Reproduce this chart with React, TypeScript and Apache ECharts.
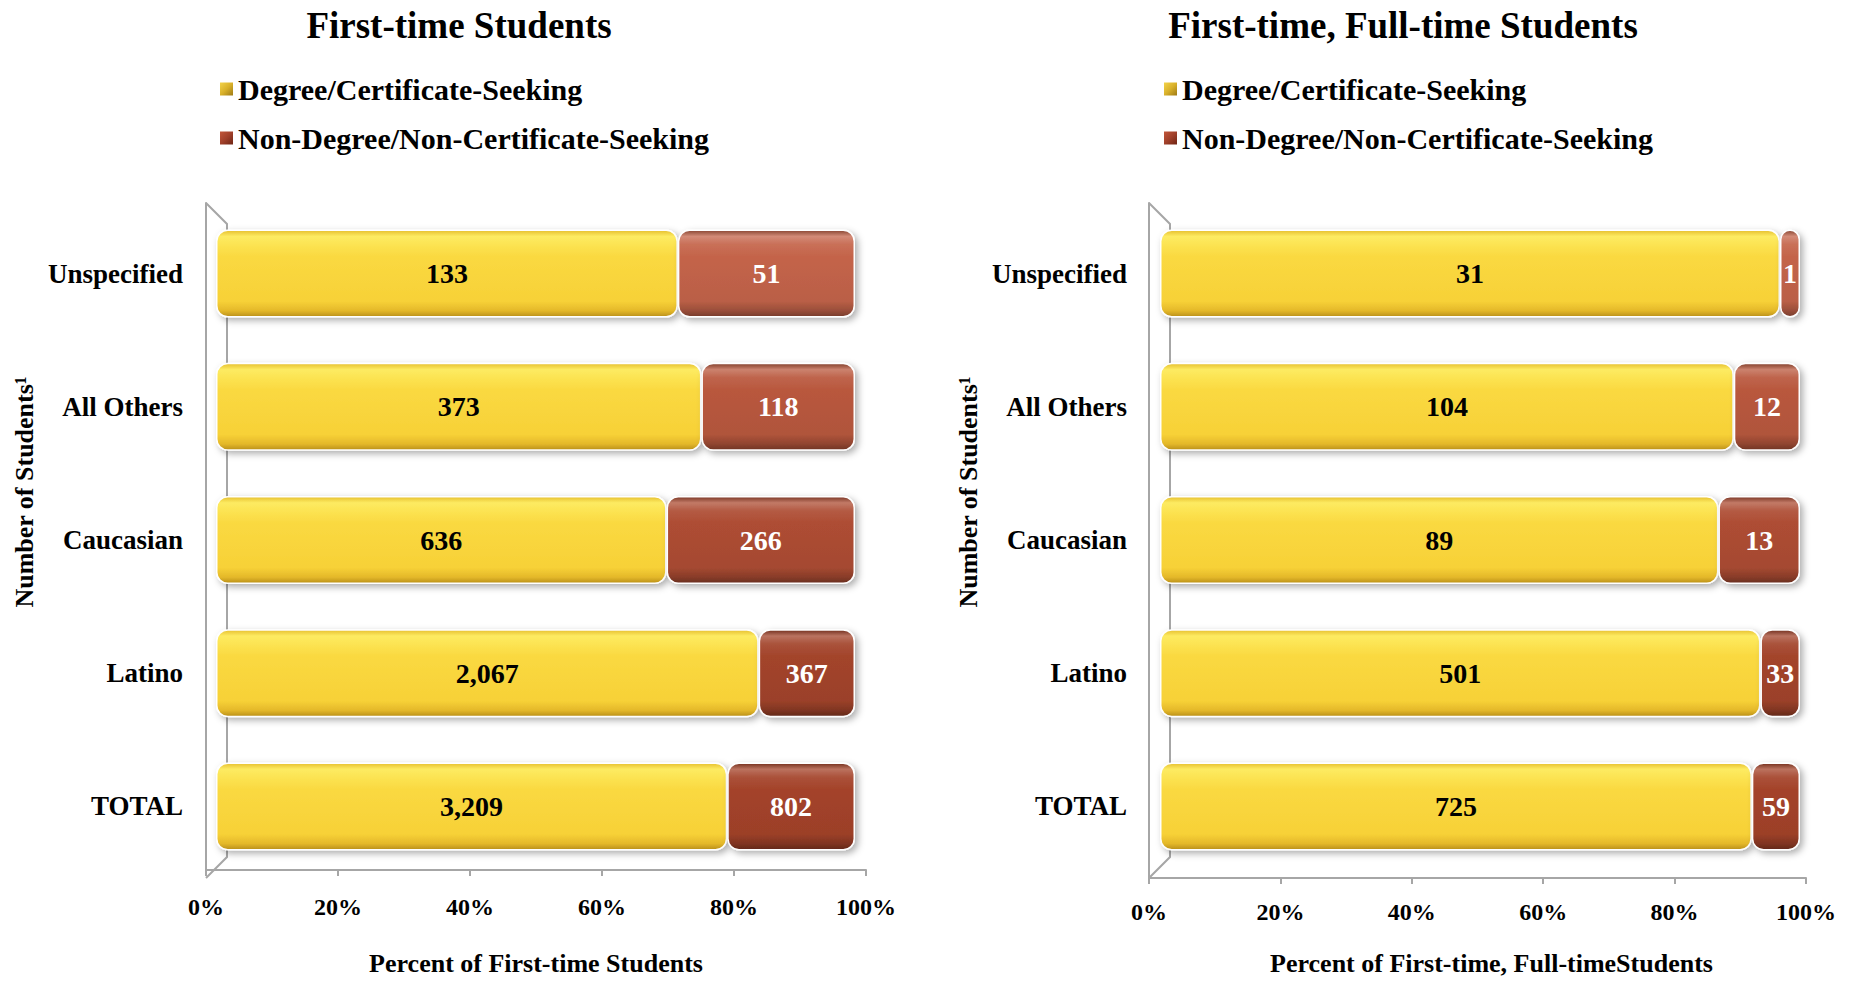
import React, { useEffect, useRef } from 'react';
import * as echarts from 'echarts';

// ---------- data ----------
const categories = ['Unspecified', 'All Others', 'Caucasian', 'Latino', 'TOTAL'];
const seriesNames = ['Degree/Certificate-Seeking', 'Non-Degree/Non-Certificate-Seeking'];
const firstTimeDegree = [133, 373, 636, 2067, 3209];
const firstTimeNonDegree = [51, 118, 266, 367, 802];
const fullTimeDegree = [31, 104, 89, 501, 725];
const fullTimeNonDegree = [1, 12, 13, 33, 59];
const panelTitles = ['First-time Students', 'First-time, Full-time Students'];
const xAxisNames = ['Percent of First-time Students', 'Percent of First-time, Full-timeStudents'];
const yAxisName = 'Number of Students\u00B9';

// ---------- styles ----------
const FONT = '"Liberation Serif", "Times New Roman", serif';
const redBases = ['#C4644A', '#B9583E', '#AE4D34', '#A3442B', '#A4432A'];

function hexToRgb(h: string) {
  const n = parseInt(h.slice(1), 16);
  return [(n >> 16) & 255, (n >> 8) & 255, n & 255];
}
function mix(a: string, b: string, t: number) {
  const A = hexToRgb(a);
  const B = hexToRgb(b);
  const c = A.map((v, i) => Math.round(v + (B[i] - v) * t));
  return `rgb(${c[0]},${c[1]},${c[2]})`;
}
function vGrad(stops: [number, string][]) {
  return {
    type: 'linear', x: 0, y: 0, x2: 0, y2: 1,
    colorStops: stops.map(([offset, color]) => ({ offset, color })),
  };
}
const yellowFill = vGrad([
  [0, '#E6BF2E'],
  [0.07, '#FDEB62'],
  [0.16, '#FCE453'],
  [0.3, '#FAD941'],
  [0.82, '#F7D137'],
  [0.93, '#E4B82A'],
  [1, '#B98F1A'],
]);
function redFill(base: string) {
  return vGrad([
    [0, mix(base, '#000000', 0.3)],
    [0.07, mix(base, '#ffffff', 0.25)],
    [0.16, mix(base, '#ffffff', 0.08)],
    [0.3, base],
    [0.82, mix(base, '#000000', 0.05)],
    [0.93, mix(base, '#000000', 0.22)],
    [1, mix(base, '#000000', 0.4)],
  ]);
}
const legendYellow = {
  type: 'linear', x: 0, y: 0, x2: 1, y2: 1,
  colorStops: [{ offset: 0, color: '#F3D34A' }, { offset: 0.5, color: '#D9B12A' }, { offset: 1, color: '#9E7A15' }],
};
const legendRed = {
  type: 'linear', x: 0, y: 0, x2: 1, y2: 1,
  colorStops: [{ offset: 0, color: '#C2563A' }, { offset: 0.5, color: '#A0402A' }, { offset: 1, color: '#6E2414' }],
};

const panels = [
  { axisLeft: 206, axisWidth: 660, barLeft: 216, barWidth: 639, titleX: 459, legendLeft: 215, yNameX: 24, xNameGap: 80, xNameShift: 0, labelMargin: 25,
    degree: firstTimeDegree, non: firstTimeNonDegree },
  { axisLeft: 1149, axisWidth: 657, barLeft: 1160, barWidth: 640, titleX: 1403, legendLeft: 1159, yNameX: 968, xNameGap: 72, xNameShift: 28, labelMargin: 22,
    degree: fullTimeDegree, non: fullTimeNonDegree },
];

const AXIS_TOP = 203;
const AXIS_H = 675;
const BAR_TOP = 207;
const BAR_H = 666;
const GRAY = '#A6A6A6';

function buildOption() {
  const grid: any[] = [];
  const xAxis: any[] = [];
  const yAxis: any[] = [];
  const series: any[] = [];
  const legend: any[] = [];
  const graphic: any[] = [];

  panels.forEach((p, pi) => {
    grid.push({ left: p.axisLeft, top: AXIS_TOP, width: p.axisWidth, height: AXIS_H });
    grid.push({ left: p.barLeft, top: BAR_TOP, width: p.barWidth, height: BAR_H });
    const g0 = pi * 2;
    const g1 = pi * 2 + 1;

    xAxis.push({
      gridIndex: g0, type: 'value', min: 0, max: 100, interval: 20,
      axisLine: { show: true, lineStyle: { color: GRAY, width: 2 } },
      axisTick: { show: true, length: 6, lineStyle: { color: GRAY, width: 2 } },
      splitLine: { show: false },
      axisLabel: { formatter: '{value}%', fontFamily: FONT, fontWeight: 'bold', fontSize: 24, color: '#000', margin: p.labelMargin },
      name: xAxisNames[pi], nameLocation: 'middle', nameGap: p.xNameGap,
      nameTextStyle: { fontFamily: FONT, fontWeight: 'bold', fontSize: 26, color: '#000', padding: [0, 0, 0, p.xNameShift] },
    });
    xAxis.push({ gridIndex: g1, type: 'value', min: 0, max: 100, show: false });

    yAxis.push({
      gridIndex: g0, type: 'value', min: 0, max: 1,
      axisLine: { show: true, lineStyle: { color: GRAY, width: 2 } },
      axisTick: { show: false }, axisLabel: { show: false }, splitLine: { show: false },
    });
    yAxis.push({
      gridIndex: g1, type: 'category', data: categories, inverse: true,
      axisLine: { show: false }, axisTick: { show: false }, splitLine: { show: false },
      axisLabel: { fontFamily: FONT, fontWeight: 'bold', fontSize: 27, color: '#000', margin: 33 },
    });

    const totals = p.degree.map((d, i) => d + p.non[i]);
    const common = {
      type: 'bar', stack: 'p' + pi, xAxisIndex: g1, yAxisIndex: g1, barWidth: 88,
    };
    const shadow = { shadowBlur: 7, shadowColor: 'rgba(0,0,0,0.32)', shadowOffsetX: 3, shadowOffsetY: 3 };
    series.push({
      ...common,
      name: seriesNames[0],
      data: p.degree.map((d, i) => (d / totals[i]) * 100),
      itemStyle: { color: yellowFill, borderRadius: 11, borderColor: '#fff', borderWidth: 1.5, ...shadow },
      label: {
        show: true, position: 'inside', fontFamily: FONT, fontWeight: 'bold', fontSize: 28, color: '#000',
        formatter: (pr: any) => p.degree[pr.dataIndex].toLocaleString('en-US'),
      },
    });
    series.push({
      ...common,
      name: seriesNames[1],
      data: p.non.map((d, i) => ({
        value: (d / totals[i]) * 100,
        itemStyle: { color: redFill(redBases[i]) },
      })),
      itemStyle: { color: redFill('#B04A32'), borderRadius: 11, borderColor: '#fff', borderWidth: 1.5, ...shadow },
      label: {
        show: true, position: 'inside', fontFamily: FONT, fontWeight: 'bold', fontSize: 28, color: '#fff',
        formatter: (pr: any) => p.non[pr.dataIndex].toLocaleString('en-US'),
      },
    });

    legend.push({
      orient: 'vertical', left: p.legendLeft, top: 68, itemWidth: 13, itemHeight: 13, itemGap: 17,
      icon: 'rect', selectedMode: false,
      data: [
        { name: seriesNames[0], itemStyle: { color: legendYellow, borderWidth: 0, shadowBlur: 0 } },
        { name: seriesNames[1], itemStyle: { color: legendRed, borderWidth: 0, shadowBlur: 0 } },
      ],
      textStyle: { fontFamily: FONT, fontWeight: 'bold', fontSize: 30, lineHeight: 32, color: '#000', padding: [0, 0, 0, 0] },
    });

    graphic.push({
      type: 'text', x: p.titleX, y: 25, z: 10,
      style: { text: panelTitles[pi], font: `bold 37px ${FONT}`, fill: '#000', textAlign: 'center', textVerticalAlign: 'middle' },
    });
    graphic.push({
      type: 'text', x: p.yNameX, y: 492, rotation: Math.PI / 2, z: 10,
      style: { text: yAxisName, font: `bold 26px ${FONT}`, fill: '#000', textAlign: 'center', textVerticalAlign: 'middle' },
    });
    const L = p.axisLeft;
    graphic.push({
      type: 'polyline', z: 0,
      shape: { points: [[L, AXIS_TOP], [L + 21, AXIS_TOP + 21], [L + 21, AXIS_TOP + AXIS_H - 21], [L, AXIS_TOP + AXIS_H]] },
      style: { stroke: GRAY, lineWidth: 2, fill: 'none' },
    });
  });

  return { animation: false, backgroundColor: '#fff', grid, xAxis, yAxis, series, legend, graphic };
}

export default function App() {
  const ref = useRef<HTMLDivElement>(null);
  useEffect(() => {
    const chart = echarts.init(ref.current!, null, { renderer: 'svg' });
    chart.setOption(buildOption() as any);
    return () => chart.dispose();
  }, []);
  return (
    <div
      ref={ref}
      style={{ position: 'fixed', left: 0, top: 0, width: 1855, height: 981, background: '#fff' }}
    />
  );
}
